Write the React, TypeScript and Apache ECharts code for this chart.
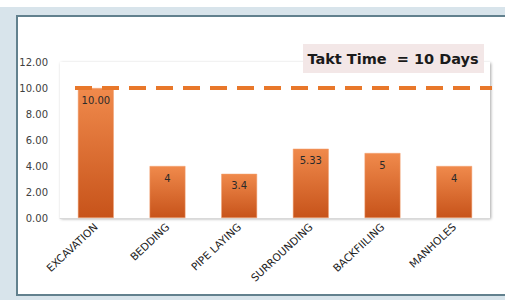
import React, { useEffect, useRef } from "react";
import * as echarts from "echarts";

const categories = ["EXCAVATION", "BEDDING", "PIPE LAYING", "SURROUNDING", "BACKFIILING", "MANHOLES"];
const durations = [10.0, 4, 3.4, 5.33, 5, 4];
const durationLabels = ["10.00", "4", "3.4", "5.33", "5", "4"];
const taktTime = 10;
const titleText = "Takt Time  = 10 Days";

export default function App() {
  const ref = useRef<HTMLDivElement>(null);
  useEffect(() => {
    if (!ref.current) return;
    const chart = echarts.init(ref.current, null, { renderer: "svg" });
    const font = "DejaVu Sans";
    chart.setOption({
      animation: false,
      backgroundColor: "#ffffff",
      textStyle: { fontFamily: font },
      graphic: [
        { type: "rect", z: -10, silent: true, shape: { x: 0, y: 7, width: 505, height: 293 }, style: { fill: "#d8e4eb" } },
        { type: "rect", z: -9, silent: true, shape: { x: 17, y: 16, width: 500, height: 279 }, style: { fill: "#ffffff", stroke: "#62818e", lineWidth: 2 } },
        {
          type: "rect", z: 5, silent: true,
          shape: { x: 303, y: 44, width: 181, height: 29 },
          style: { fill: "#f3e7e7" },
        },
        {
          type: "text", z: 6, silent: true,
          x: 393, y: 59,
          style: { text: titleText, fontFamily: font, fontWeight: "bold", fontSize: 14.5, fill: "#1a1a1a", align: "center", verticalAlign: "middle" },
        },
      ],
      grid: {
        left: 60, right: 15, top: 62, bottom: 82,
        show: true, backgroundColor: "#ffffff", borderWidth: 0,
        shadowColor: "rgba(0,0,0,0.35)", shadowBlur: 3, shadowOffsetX: 1, shadowOffsetY: 1,
      },
      xAxis: {
        type: "category",
        data: categories,
        axisLine: { show: true, lineStyle: { color: "#d9d9d9" } },
        axisTick: { show: false },
        axisLabel: { rotate: 43, fontSize: 10.5, color: "#222", fontFamily: font, interval: 0, margin: 7 },
      },
      yAxis: {
        type: "value",
        min: 0, max: 12, interval: 2,
        splitLine: { show: false },
        axisLine: { show: false },
        axisTick: { show: false },
        axisLabel: { fontSize: 10, color: "#404040", fontFamily: font, margin: 12, formatter: (v: number) => v.toFixed(2) },
      },
      series: [
        {
          type: "bar",
          data: durations,
          barWidth: "50%",
          itemStyle: {
            color: new echarts.graphic.LinearGradient(0, 0, 0, 1, [
              { offset: 0, color: "#f08a4c" },
              { offset: 1, color: "#c7531a" },
            ]),
            borderColor: "#f3a070",
            borderWidth: 0.5,
          },
          label: {
            show: true, position: "insideTop", distance: 7,
            fontSize: 10, color: "#2a2a2a", fontFamily: font,
            formatter: (p: any) => durationLabels[p.dataIndex],
          },
          markLine: {
            silent: true,
            symbol: "none",
            label: { show: false },
            lineStyle: { color: "#e8772a", width: 4, type: [17, 10] },
            data: [[{ x: 75, yAxis: taktTime }, { x: 492, yAxis: taktTime }]],
          },
        },
      ],
    });
    return () => chart.dispose();
  }, []);
  return <div ref={ref} style={{ position: "absolute", left: 0, top: 0, width: 505, height: 300 }} />;
}
